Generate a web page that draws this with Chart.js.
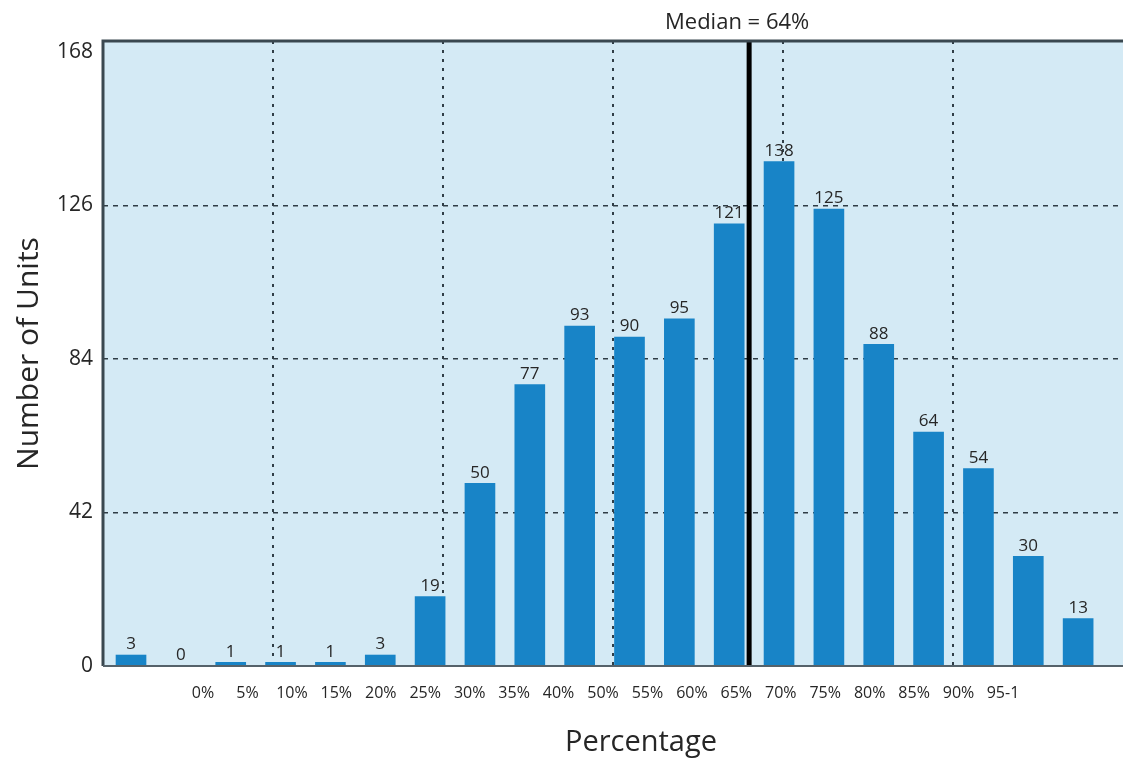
<!DOCTYPE html>
<html>
<head>
<meta charset="utf-8">
<script src="https://cdn.jsdelivr.net/npm/chart.js@4.4.1/dist/chart.umd.min.js"></script>
<style>
  html, body { margin: 0; padding: 0; background: #ffffff; }
  #wrap { width: 1123px; height: 758px; }
</style>
</head>
<body>
<div id="wrap"><canvas id="c" width="1123" height="758"></canvas></div>
<script>
// ---- data ----
const barValues = [3, 0, 1, 1, 1, 3, 19, 50, 77, 93, 90, 95, 121, 138, 125, 88, 64, 54, 30, 13];
const tickLabels = ['0%', '5%', '10%', '15%', '20%', '25%', '30%', '35%', '40%', '50%', '55%', '60%', '65%', '70%', '75%', '80%', '85%', '90%', '95-1'];
const yTicks = [0, 42, 84, 126, 168];
const medianText = 'Median = 64%';
const medianBarPosition = 12.4;   // between the 121 and 138 bars
const xTitle = 'Percentage';
const yTitle = 'Number of Units';

// ---- styles ----
const PLOT_BG = '#d4eaf5';
const BAR = '#1884c7';
const GRID = '#2f3d46';
const TEXT = '#262626';
const FRAME = '#3a4850';
const SANS = "'Open Sans', 'Noto Sans', sans-serif";

const decorPlugin = {
  id: 'decor',
  beforeDraw(chart) {
    const { ctx, chartArea: a } = chart;
    ctx.save();
    ctx.fillStyle = PLOT_BG;
    ctx.fillRect(a.left, a.top, a.right - a.left, a.bottom - a.top);
    ctx.restore();
  },
  afterDatasetsDraw(chart) {
    const { ctx, chartArea: a } = chart;
    const xs = chart.scales.x;
    const meta = chart.getDatasetMeta(0);
    ctx.save();
    // value labels
    ctx.fillStyle = TEXT;
    ctx.font = "500 17px " + SANS;
    ctx.textAlign = 'center';
    ctx.textBaseline = 'bottom';
    meta.data.forEach((el, i) => {
      ctx.fillText(String(barValues[i]), el.x, el.y - 2);
    });
    // median line
    const mx = xs.getPixelForValue(medianBarPosition);
    ctx.strokeStyle = '#000000';
    ctx.lineWidth = 5;
    ctx.beginPath();
    ctx.moveTo(mx, a.top);
    ctx.lineTo(mx, a.bottom);
    ctx.stroke();
    // frame
    ctx.strokeStyle = FRAME;
    ctx.lineWidth = 3;
    ctx.beginPath();
    ctx.moveTo(a.right, a.top);
    ctx.lineTo(a.left, a.top);
    ctx.lineTo(a.left, a.bottom);
    ctx.stroke();
    ctx.lineWidth = 2;
    ctx.strokeStyle = '#55626a';
    ctx.beginPath();
    ctx.moveTo(a.left, a.bottom);
    ctx.lineTo(a.right, a.bottom);
    ctx.stroke();
    // median label
    ctx.fillStyle = TEXT;
    ctx.font = "22px " + SANS;
    ctx.textAlign = 'center';
    ctx.textBaseline = 'middle';
    ctx.fillText(medianText, mx - 12, 23);
    // x axis title
    ctx.font = "29px " + SANS;
    ctx.fillText(xTitle, (a.left + a.right) / 2 + 28, 743);
    ctx.restore();
  }
};

new Chart(document.getElementById('c'), {
  type: 'bar',
  data: {
    datasets: [{
      data: barValues.map((v, i) => ({ x: i, y: v })),
      backgroundColor: BAR,
      borderWidth: 0,
      barThickness: 30,
      xAxisID: 'x',
      yAxisID: 'y'
    }]
  },
  options: {
    responsive: false,
    animation: false,
    layout: { padding: { top: 41, left: 0, right: 0, bottom: 0 } },
    plugins: { legend: { display: false }, tooltip: { enabled: false } },
    scales: {
      x: { type: 'linear', display: false, offset: false, min: -0.562, max: 19.9 },
      xl: {
        type: 'linear', position: 'bottom', offset: false, min: -2.25, max: 20.7,
        grid: { display: false, drawTicks: false, offset: false },
        border: { display: false },
        afterBuildTicks: (s) => { s.ticks = tickLabels.map((_, i) => ({ value: i })); },
        afterFit: (s) => { s.height = 92; },
        ticks: {
          autoSkip: false, maxRotation: 0, minRotation: 0, padding: 18,
          color: TEXT, font: { family: SANS, size: 16, weight: '500' },
          callback: (v) => tickLabels[v]
        }
      },
      xg: {
        type: 'linear', position: 'top', offset: false, min: 0, max: 6,
        ticks: { display: false, stepSize: 1 },
        border: { display: false, dash: [3, 6] },
        grid: {
          offset: false,
          drawTicks: false,
          lineWidth: 2,
          color: (c) => (c.tick && (c.tick.value === 0 || c.tick.value === 6)) ? 'rgba(0,0,0,0)' : GRID
        }
      },
      y: {
        type: 'linear', min: 0, max: 171,
        afterBuildTicks: (s) => { s.ticks = yTicks.map(v => ({ value: v })); },
        afterFit: (s) => { s.width = 103; },
        border: { display: false, dash: [5, 5] },
        grid: {
          drawTicks: false,
          lineWidth: 1.5,
          color: (c) => (c.tick && (c.tick.value === 0 || c.tick.value === 168)) ? 'rgba(0,0,0,0)' : GRID
        },
        ticks: { padding: 10, color: TEXT, font: { family: SANS, size: 21, weight: '500' } },
        title: {
          display: true, text: yTitle, color: TEXT,
          font: { family: SANS, size: 30 },
          padding: { top: 11, bottom: 0 }
        }
      }
    }
  },
  plugins: [decorPlugin]
});
</script>
</body>
</html>
